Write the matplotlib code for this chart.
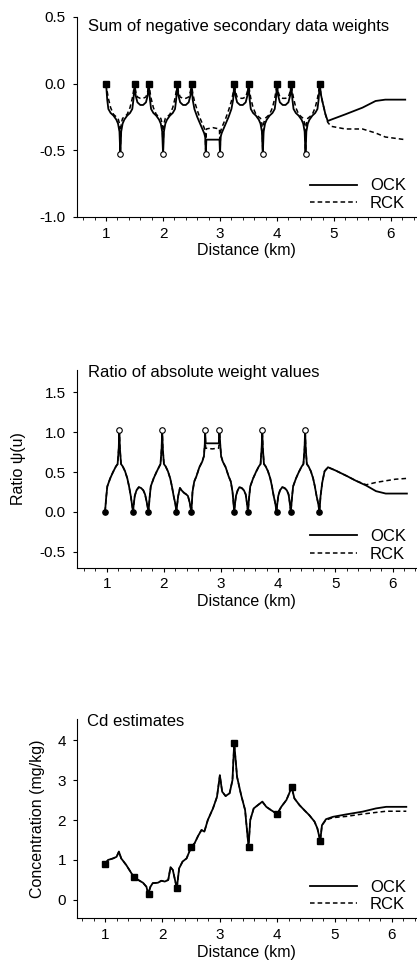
import matplotlib
matplotlib.use("Agg")
import matplotlib.pyplot as plt
from matplotlib.ticker import MultipleLocator, FormatStrFormatter

plt.rcParams['font.family'] = ['Liberation Sans', 'DejaVu Sans']

# ---- panel 1: sum of negative secondary data weights ----
neg_x = [1.00, 1.02, 1.04, 1.08, 1.13, 1.18, 1.21, 1.235, 1.245, 1.25, 1.255, 1.265, 1.29, 1.32, 1.37, 1.42, 1.46, 1.48, 1.50,
         1.52, 1.55, 1.60, 1.65, 1.70, 1.73, 1.75,
         1.77, 1.79, 1.83, 1.88, 1.93, 1.96, 1.985, 1.995, 2.00, 2.005, 2.015, 2.04, 2.07, 2.12, 2.17, 2.21, 2.23, 2.25,
         2.27, 2.30, 2.35, 2.40, 2.45, 2.48, 2.50,
         2.52, 2.55, 2.60, 2.65, 2.69, 2.72, 2.74, 2.75, 2.76, 2.875, 2.99, 3.00, 3.01, 3.03, 3.06, 3.10, 3.15, 3.20, 3.23, 3.25,
         3.27, 3.30, 3.35, 3.40, 3.45, 3.48, 3.50,
         3.52, 3.54, 3.58, 3.63, 3.68, 3.71, 3.735, 3.745, 3.75, 3.755, 3.765, 3.79, 3.82, 3.87, 3.92, 3.96, 3.98, 4.00,
         4.02, 4.05, 4.10, 4.15, 4.20, 4.23, 4.25,
         4.27, 4.29, 4.33, 4.38, 4.43, 4.46, 4.485, 4.495, 4.50, 4.505, 4.515, 4.54, 4.57, 4.62, 4.67, 4.71, 4.73, 4.75,
         4.77, 4.80, 4.85, 4.89, 4.95, 5.20, 5.50, 5.73, 5.90, 6.25]
neg_ock = [0.00, -0.12, -0.19, -0.22, -0.24, -0.27, -0.30, -0.36, -0.48, -0.53, -0.48, -0.36, -0.30, -0.27, -0.24, -0.22, -0.19, -0.12, 0.00,
           -0.09, -0.14, -0.16, -0.16, -0.14, -0.09, 0.00,
           -0.12, -0.19, -0.22, -0.24, -0.27, -0.30, -0.36, -0.48, -0.53, -0.48, -0.36, -0.30, -0.27, -0.24, -0.22, -0.19, -0.12, 0.00,
           -0.09, -0.14, -0.16, -0.16, -0.14, -0.09, 0.00,
           -0.12, -0.19, -0.25, -0.30, -0.34, -0.37, -0.40, -0.53, -0.42, -0.42, -0.42, -0.53, -0.40, -0.37, -0.34, -0.30, -0.25, -0.19, -0.12, 0.00,
           -0.09, -0.14, -0.16, -0.16, -0.14, -0.09, 0.00,
           -0.12, -0.19, -0.22, -0.24, -0.27, -0.30, -0.36, -0.48, -0.53, -0.48, -0.36, -0.30, -0.27, -0.24, -0.22, -0.19, -0.12, 0.00,
           -0.09, -0.14, -0.16, -0.16, -0.14, -0.09, 0.00,
           -0.12, -0.19, -0.22, -0.24, -0.27, -0.30, -0.36, -0.48, -0.53, -0.48, -0.36, -0.30, -0.27, -0.24, -0.22, -0.19, -0.12, 0.00,
           -0.08, -0.14, -0.23, -0.28, -0.27, -0.23, -0.18, -0.13, -0.12, -0.12]
neg_rck = [0.00, -0.06, -0.11, -0.18, -0.23, -0.25, -0.26, -0.30, -0.42, -0.53, -0.42, -0.30, -0.26, -0.25, -0.23, -0.18, -0.11, -0.06, 0.00,
           -0.06, -0.10, -0.11, -0.11, -0.10, -0.06, 0.00,
           -0.06, -0.11, -0.18, -0.23, -0.25, -0.26, -0.30, -0.42, -0.53, -0.42, -0.30, -0.26, -0.25, -0.23, -0.18, -0.11, -0.06, 0.00,
           -0.06, -0.10, -0.11, -0.11, -0.10, -0.06, 0.00,
           -0.07, -0.13, -0.20, -0.26, -0.30, -0.33, -0.36, -0.53, -0.34, -0.33, -0.34, -0.53, -0.36, -0.33, -0.30, -0.26, -0.20, -0.13, -0.07, 0.00,
           -0.06, -0.10, -0.11, -0.11, -0.10, -0.06, 0.00,
           -0.06, -0.11, -0.18, -0.23, -0.25, -0.26, -0.30, -0.42, -0.53, -0.42, -0.30, -0.26, -0.25, -0.23, -0.18, -0.11, -0.06, 0.00,
           -0.06, -0.10, -0.11, -0.11, -0.10, -0.06, 0.00,
           -0.06, -0.11, -0.18, -0.23, -0.25, -0.26, -0.30, -0.42, -0.53, -0.42, -0.30, -0.26, -0.25, -0.23, -0.18, -0.11, -0.06, 0.00,
           -0.08, -0.14, -0.23, -0.29, -0.32, -0.34, -0.34, -0.37, -0.40, -0.42]
neg_sq_x = [1.00, 1.50, 1.75, 2.25, 2.50, 3.25, 3.50, 4.00, 4.25, 4.75]
neg_sq_y = [0.0] * 10
neg_circ_x = [1.25, 2.00, 2.75, 3.00, 3.75, 4.50]
neg_circ_y = [-0.53] * 6

# ---- panel 2: ratio of absolute weight values ----
ratio_x = [0.97, 0.99, 1.01, 1.06, 1.11, 1.16, 1.19, 1.21, 1.22, 1.23, 1.25, 1.28, 1.32, 1.36, 1.39, 1.42, 1.44, 1.46,
           1.47, 1.49, 1.52, 1.56, 1.60, 1.64, 1.67, 1.70, 1.73,
           1.75, 1.77, 1.82, 1.87, 1.92, 1.94, 1.96, 1.97, 1.98, 2.00, 2.03, 2.07, 2.11, 2.14, 2.17, 2.20, 2.22,
           2.23, 2.25, 2.28, 2.31, 2.35, 2.39, 2.42, 2.45, 2.48,
           2.50, 2.53, 2.57, 2.62, 2.67, 2.70, 2.715, 2.72, 2.73, 2.845, 2.96, 2.97, 2.985, 3.00, 3.03, 3.08, 3.13, 3.17, 3.20, 3.23,
           3.24, 3.26, 3.29, 3.32, 3.36, 3.40, 3.43, 3.45, 3.47,
           3.49, 3.51, 3.56, 3.61, 3.66, 3.69, 3.71, 3.72, 3.73, 3.75, 3.78, 3.82, 3.86, 3.89, 3.92, 3.95, 3.97,
           3.98, 4.00, 4.03, 4.07, 4.11, 4.15, 4.18, 4.20, 4.22,
           4.24, 4.26, 4.31, 4.36, 4.41, 4.44, 4.46, 4.47, 4.48, 4.50, 4.53, 4.57, 4.61, 4.64, 4.67, 4.70, 4.72,
           4.74, 4.77, 4.81, 4.87, 5.00, 5.20, 5.36, 5.54, 5.71, 5.88, 6.05, 6.25]
ratio_ock = [0.00, 0.18, 0.32, 0.42, 0.50, 0.57, 0.60, 0.80, 1.03, 0.80, 0.60, 0.57, 0.51, 0.42, 0.32, 0.20, 0.10, 0.00,
             0.08, 0.20, 0.27, 0.31, 0.30, 0.27, 0.22, 0.12, 0.00,
             0.18, 0.32, 0.42, 0.50, 0.57, 0.60, 0.80, 1.03, 0.80, 0.60, 0.57, 0.51, 0.42, 0.32, 0.20, 0.10, 0.00,
             0.08, 0.20, 0.30, 0.27, 0.24, 0.22, 0.20, 0.12, 0.00,
             0.25, 0.38, 0.45, 0.56, 0.63, 0.70, 0.85, 1.03, 0.86, 0.86, 0.86, 1.03, 0.85, 0.70, 0.63, 0.56, 0.45, 0.38, 0.25, 0.00,
             0.08, 0.20, 0.27, 0.31, 0.30, 0.27, 0.22, 0.12, 0.00,
             0.18, 0.32, 0.42, 0.50, 0.57, 0.60, 0.80, 1.03, 0.80, 0.60, 0.57, 0.51, 0.42, 0.32, 0.20, 0.10, 0.00,
             0.08, 0.20, 0.27, 0.31, 0.30, 0.27, 0.22, 0.12, 0.00,
             0.18, 0.32, 0.42, 0.50, 0.57, 0.60, 0.80, 1.03, 0.80, 0.60, 0.57, 0.51, 0.42, 0.32, 0.20, 0.10, 0.00,
             0.20, 0.37, 0.51, 0.56, 0.52, 0.45, 0.39, 0.33, 0.26, 0.23, 0.23, 0.23]
ratio_rck = [0.00, 0.18, 0.32, 0.42, 0.50, 0.57, 0.60, 0.80, 1.03, 0.80, 0.60, 0.57, 0.51, 0.42, 0.32, 0.20, 0.10, 0.00,
             0.08, 0.20, 0.27, 0.31, 0.30, 0.27, 0.22, 0.12, 0.00,
             0.18, 0.32, 0.42, 0.50, 0.57, 0.60, 0.80, 1.03, 0.80, 0.60, 0.57, 0.51, 0.42, 0.32, 0.20, 0.10, 0.00,
             0.08, 0.20, 0.30, 0.27, 0.24, 0.22, 0.20, 0.12, 0.00,
             0.25, 0.38, 0.45, 0.56, 0.63, 0.70, 0.85, 1.03, 0.80, 0.79, 0.80, 1.03, 0.85, 0.70, 0.63, 0.56, 0.45, 0.38, 0.25, 0.00,
             0.08, 0.20, 0.27, 0.31, 0.30, 0.27, 0.22, 0.12, 0.00,
             0.18, 0.32, 0.42, 0.50, 0.57, 0.60, 0.80, 1.03, 0.80, 0.60, 0.57, 0.51, 0.42, 0.32, 0.20, 0.10, 0.00,
             0.08, 0.20, 0.27, 0.31, 0.30, 0.27, 0.22, 0.12, 0.00,
             0.18, 0.32, 0.42, 0.50, 0.57, 0.60, 0.80, 1.03, 0.80, 0.60, 0.57, 0.51, 0.42, 0.32, 0.20, 0.10, 0.00,
             0.20, 0.37, 0.51, 0.56, 0.52, 0.45, 0.39, 0.34, 0.37, 0.39, 0.41, 0.42]
ratio_dot_x = [0.97, 1.46, 1.73, 2.22, 2.48, 3.23, 3.47, 3.97, 4.22, 4.72]
ratio_dot_y = [0.0] * 10
ratio_circ_x = [1.22, 1.97, 2.72, 2.97, 3.72, 4.47]
ratio_circ_y = [1.03] * 6

# ---- panel 3: Cd estimates ----
cd_x = [1.00, 1.05, 1.14, 1.20, 1.24, 1.28, 1.37, 1.44, 1.50, 1.60, 1.66, 1.72, 1.75, 1.79, 1.83, 1.92, 1.98,
        2.04, 2.10, 2.14, 2.18, 2.25, 2.29, 2.35, 2.42, 2.50, 2.56, 2.62, 2.68, 2.73, 2.79, 2.88, 2.95,
        3.00, 3.04, 3.10, 3.17, 3.22, 3.25, 3.30, 3.37, 3.44, 3.50, 3.53, 3.59, 3.66, 3.74, 3.81, 3.89,
        4.00, 4.07, 4.16, 4.21, 4.25, 4.30, 4.39, 4.47, 4.56, 4.65, 4.70, 4.75, 4.78, 4.85, 4.97,
        5.20, 5.49, 5.72, 5.90, 6.25]
cd_ock = [0.90, 1.00, 1.04, 1.08, 1.21, 1.04, 0.87, 0.71, 0.57, 0.48, 0.43, 0.33, 0.15, 0.33, 0.42, 0.43, 0.48,
          0.46, 0.50, 0.82, 0.75, 0.29, 0.79, 0.96, 1.04, 1.32, 1.42, 1.60, 1.75, 1.71, 2.00, 2.29, 2.58,
          3.12, 2.71, 2.60, 2.67, 3.00, 3.93, 3.08, 2.63, 2.25, 1.33, 2.00, 2.29, 2.37, 2.46, 2.33, 2.25,
          2.15, 2.33, 2.50, 2.67, 2.83, 2.54, 2.37, 2.25, 2.12, 1.96, 1.79, 1.48, 1.87, 2.02, 2.08,
          2.14, 2.21, 2.29, 2.33, 2.33]
cd_rck = [0.90, 1.00, 1.04, 1.08, 1.21, 1.04, 0.87, 0.71, 0.57, 0.48, 0.43, 0.33, 0.15, 0.33, 0.42, 0.43, 0.48,
          0.46, 0.50, 0.82, 0.75, 0.29, 0.79, 0.96, 1.04, 1.32, 1.42, 1.60, 1.75, 1.71, 2.00, 2.29, 2.58,
          3.12, 2.71, 2.60, 2.67, 3.00, 3.93, 3.08, 2.63, 2.25, 1.33, 2.00, 2.29, 2.37, 2.46, 2.33, 2.25,
          2.15, 2.33, 2.50, 2.67, 2.83, 2.54, 2.37, 2.25, 2.12, 1.96, 1.79, 1.48, 1.87, 2.00, 2.06,
          2.09, 2.15, 2.19, 2.22, 2.22]
cd_sq_x = [1.00, 1.50, 1.76, 2.25, 2.50, 3.25, 3.50, 4.00, 4.25, 4.75]
cd_sq_y = [0.90, 0.57, 0.15, 0.29, 1.32, 3.93, 1.33, 2.15, 2.83, 1.48]


def style_axes(ax, xlim, ylim, ystep):
    ax.set_xlim(*xlim)
    ax.set_ylim(*ylim)
    ax.spines['top'].set_visible(False)
    ax.spines['right'].set_visible(False)
    ax.xaxis.set_major_locator(MultipleLocator(1))
    ax.xaxis.set_minor_locator(MultipleLocator(0.2))
    ax.yaxis.set_major_locator(MultipleLocator(ystep))
    ax.tick_params(which='major', length=3, width=0.8, labelsize=11, pad=4)
    ax.tick_params(axis='y', which='major', pad=5)
    ax.tick_params(which='minor', length=2, width=0.6)
    ax.set_xlabel('Distance (km)', fontsize=11.5, labelpad=2)
    # solid OCK first, dashed RCK second
    h, l = ax.get_legend_handles_labels()
    ax.legend(h[::-1], l[::-1], loc='lower right', bbox_to_anchor=(1.0, -0.02), frameon=False, fontsize=12,
              handlelength=2.8, handletextpad=0.8, labelspacing=0.15, borderaxespad=0.2)


fig = plt.figure(figsize=(4.17, 9.64), dpi=100)

# panel 1
ax1 = fig.add_axes([0.1847, 0.7749, 0.813, 0.2075])
ax1.plot(neg_x, neg_rck, color='black', lw=1.1, ls=(0, (3, 2)), label='RCK', zorder=2)
ax1.plot(neg_x, neg_ock, color='black', lw=1.3, label='OCK', zorder=3)
ax1.plot(neg_sq_x, neg_sq_y, 's', color='black', ms=3.8, zorder=4)
ax1.plot(neg_circ_x, neg_circ_y, 'o', mfc='white', mec='black', mew=0.8, ms=4, zorder=4)
style_axes(ax1, (0.49, 6.44), (-1.0, 0.5), 0.5)
ax1.yaxis.set_major_formatter(FormatStrFormatter('%.1f'))
fig.text(88 / 417, 1 - 26 / 964, 'Sum of negative secondary data weights', fontsize=12, va='center', ha='left')

# panel 2
ax2 = fig.add_axes([0.1847, 0.4111, 0.813, 0.2051])
ax2.plot(ratio_x, ratio_rck, color='black', lw=1.1, ls=(0, (3, 2)), label='RCK', zorder=2)
ax2.plot(ratio_x, ratio_ock, color='black', lw=1.3, label='OCK', zorder=3)
ax2.plot(ratio_dot_x, ratio_dot_y, 'o', color='black', ms=3.8, zorder=4)
ax2.plot(ratio_circ_x, ratio_circ_y, 'o', mfc='white', mec='black', mew=0.8, ms=4, zorder=4)
style_axes(ax2, (0.48, 6.41), (-0.7, 1.78), 0.5)
ax2.yaxis.set_major_formatter(FormatStrFormatter('%.1f'))
ax2.set_ylabel('Ratio ψ(u)', fontsize=11.5, labelpad=10)
fig.text(88 / 417, 1 - 373 / 964, 'Ratio of absolute weight values', fontsize=12, va='center', ha='left')

# panel 3
ax3 = fig.add_axes([0.1847, 0.0474, 0.813, 0.2064])
ax3.plot(cd_x, cd_rck, color='black', lw=1.1, ls=(0, (3, 2)), label='RCK', zorder=2)
ax3.plot(cd_x, cd_ock, color='black', lw=1.3, label='OCK', zorder=3)
ax3.plot(cd_sq_x, cd_sq_y, 's', color='black', ms=3.8, zorder=4)
style_axes(ax3, (0.51, 6.42), (-0.46, 4.52), 1)
ax3.set_ylabel('Concentration (mg/kg)', fontsize=11.5, labelpad=9)
fig.text(87 / 417, 1 - 722 / 964, 'Cd estimates', fontsize=12, va='center', ha='left')

fig.savefig('out.png', dpi=100)
